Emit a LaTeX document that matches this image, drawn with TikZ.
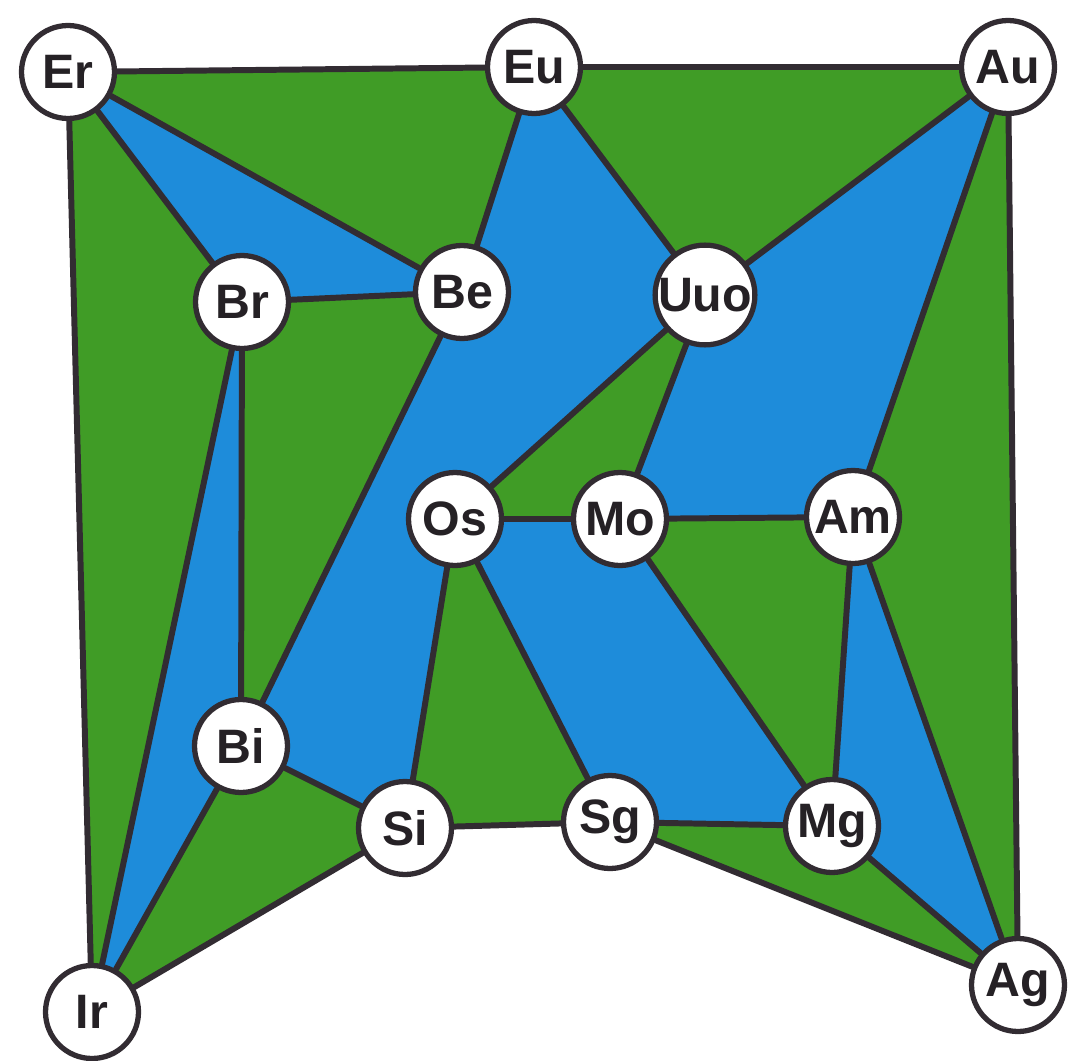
\documentclass[tikz,border=0pt]{standalone}
\usepackage{fontspec}
\setmainfont{Liberation Sans}
\usetikzlibrary{backgrounds}
\definecolor{leafgreen}{RGB}{64,156,38}
\definecolor{skyblue}{RGB}{30,140,218}
\definecolor{inkgray}{RGB}{50,44,50}

\begin{document}
\begin{tikzpicture}[
  x=0.02cm, y=-0.02cm,
  elem/.style={circle, draw=inkgray, line width=3pt, fill=white, minimum size=1.86cm, inner sep=0pt,
    font=\bfseries\fontsize{27.5}{27.5}\selectfont, text=inkgray!75!black},
  link/.style={draw=inkgray, line width=3.4pt, line cap=round},
  greenface/.style={fill=leafgreen},
  blueface/.style={fill=skyblue}
]
\useasboundingbox (0,0) rectangle (1075,1061);
% elements
\node[elem] (Er)  at (68,72)    {Er};
\node[elem] (Eu)  at (534,67)   {Eu};
\node[elem] (Au)  at (1008,67)  {Au};
\node[elem] (Br)  at (242,302)  {Br};
\node[elem] (Be)  at (462,292)  {Be};
\node[elem] (Uuo) at (705,295)  {Uuo};
\node[elem] (Os)  at (455,519)  {Os};
\node[elem] (Mo)  at (620,519)  {Mo};
\node[elem] (Am)  at (853,517)  {Am};
\node[elem] (Bi)  at (241,746)  {Bi};
\node[elem] (Si)  at (405,828)  {Si};
\node[elem] (Sg)  at (610,822)  {Sg};
\node[elem] (Mg)  at (832,826)  {Mg};
\node[elem] (Ir)  at (92,1012)  {Ir};
\node[elem] (Ag)  at (1018,985) {Ag};
\begin{scope}[on background layer]
% faces
\fill[greenface] (Er.center) -- (Eu.center) -- (Au.center) -- (Ag.center) -- (Sg.center) -- (Si.center) -- (Ir.center) -- cycle;
\fill[blueface] (Er.center) -- (Be.center) -- (Br.center) -- cycle;
\fill[blueface] (Br.center) -- (Bi.center) -- (Ir.center) -- cycle;
\fill[blueface] (Eu.center) -- (Be.center) -- (Bi.center) -- (Si.center) -- (Os.center) -- (Uuo.center) -- cycle;
\fill[blueface] (Uuo.center) -- (Au.center) -- (Am.center) -- (Mo.center) -- cycle;
\fill[blueface] (Os.center) -- (Mo.center) -- (Mg.center) -- (Sg.center) -- cycle;
\fill[blueface] (Am.center) -- (Mg.center) -- (Ag.center) -- cycle;
% links
\draw[link] (Er) -- (Eu);
\draw[link] (Eu) -- (Au);
\draw[link] (Au) -- (Ag);
\draw[link] (Er) -- (Ir);
\draw[link] (Er) -- (Br);
\draw[link] (Er) -- (Be);
\draw[link] (Br) -- (Be);
\draw[link] (Eu) -- (Be);
\draw[link] (Eu) -- (Uuo);
\draw[link] (Uuo) -- (Au);
\draw[link] (Be) -- (Bi);
\draw[link] (Br) -- (Bi);
\draw[link] (Br) -- (Ir);
\draw[link] (Bi) -- (Ir);
\draw[link] (Bi) -- (Si);
\draw[link] (Si) -- (Ir);
\draw[link] (Uuo) -- (Os);
\draw[link] (Uuo) -- (Mo);
\draw[link] (Os) -- (Mo);
\draw[link] (Mo) -- (Am);
\draw[link] (Au) -- (Am);
\draw[link] (Os) -- (Si);
\draw[link] (Os) -- (Sg);
\draw[link] (Mo) -- (Mg);
\draw[link] (Am) -- (Mg);
\draw[link] (Am) -- (Ag);
\draw[link] (Mg) -- (Ag);
\draw[link] (Sg) -- (Ag);
\draw[link] (Si) -- (Sg);
\draw[link] (Sg) -- (Mg);
\end{scope}
\end{tikzpicture}
\end{document}
